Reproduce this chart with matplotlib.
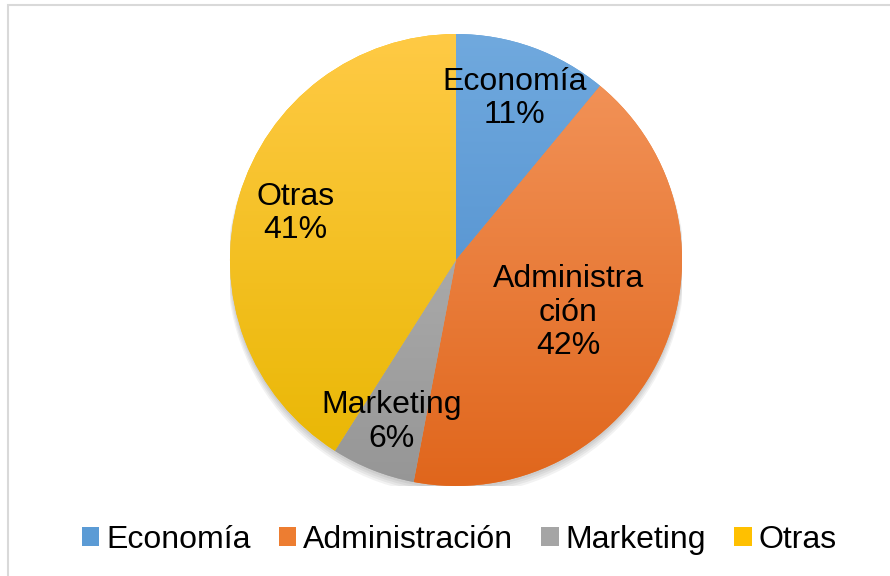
#!/usr/bin/env python3
# -*- coding: utf-8 -*-

import numpy as np
import matplotlib
matplotlib.use("Agg")
import matplotlib.pyplot as plt
from matplotlib.patches import Patch, Rectangle, Circle
from matplotlib.colors import to_rgb

# DATA
categories = ["Economía", "Administración", "Marketing", "Otras"]
shares = [11, 42, 6, 41]
slice_labels = ["Economía\n11%", "Administra\nción\n42%", "Marketing\n6%", "Otras\n41%"]

# gradient colours per slice (top -> bottom)
top_colors = ["#70a9de", "#f4975e", "#bdbdbd", "#ffca45"]
bottom_colors = ["#4687c9", "#e0661c", "#969696", "#e8b600"]
legend_colors = ["#5b9bd5", "#ed7d31", "#a5a5a5", "#ffc000"]

# radial position of each slice label (fraction of radius)
label_dist = [0.76, 0.55, 0.77, 0.74]

plt.rcParams["font.family"] = ["Liberation Sans", "DejaVu Sans"]

W, H = 890, 576
fig = plt.figure(figsize=(W / 100, H / 100), dpi=100)

# pie axes: centre ~(456, 260) px, radius ~226 px
cx, cy, r = 456, 260, 226
ax = fig.add_axes([(cx - r) / W, 1 - (cy + r) / H, 2 * r / W, 2 * r / H])

# soft shadow under the pie
for k in range(4):
    ax.add_patch(Circle((0, -0.012 - 0.006 * k), 1.0 + 0.004 * k,
                        color="black", alpha=0.05, lw=0, zorder=0))

wedges, _ = ax.pie(shares, startangle=90, counterclock=False,
                   colors=legend_colors, radius=1.0,
                   wedgeprops=dict(linewidth=0))

# gradient fill, clipped to each wedge
n = 256
t = np.linspace(0, 1, n)[:, None]  # 0 = bottom, 1 = top
for w, ctop, cbot in zip(wedges, top_colors, bottom_colors):
    c0 = np.array(to_rgb(cbot))
    c1 = np.array(to_rgb(ctop))
    grad = (c0 + (c1 - c0) * t)[:, None, :].repeat(2, axis=1).reshape(n, 2, 3)
    im = ax.imshow(grad, extent=(-1, 1, -1, 1), origin="lower",
                   aspect="auto", interpolation="bilinear", zorder=2)
    im.set_clip_path(w)

# slice labels
for w, lab, d in zip(wedges, slice_labels, label_dist):
    ang = np.deg2rad((w.theta1 + w.theta2) / 2)
    ax.text(d * np.cos(ang), d * np.sin(ang), lab, ha="center", va="center",
            fontsize=23, color="black", linespacing=1.15, zorder=5)

ax.set_xlim(-1, 1)
ax.set_ylim(-1, 1)
ax.set_aspect("equal")
ax.axis("off")

# legend
handles = [Patch(facecolor=c, edgecolor="none") for c in legend_colors]
fig.legend(handles, categories, loc="center", bbox_to_anchor=(0.516, 1 - 540 / H),
           ncol=4, frameon=False, fontsize=23, handlelength=0.55, handleheight=0.55,
           handletextpad=0.22, columnspacing=0.87, borderpad=0)

# chart-area border (only top and left edges visible in the crop)
fig.patches.append(Rectangle((8 / W, -0.2), 1.2, 1 - 5 / H + 0.2,
                             transform=fig.transFigure, fill=False,
                             edgecolor="#d9d9d9", linewidth=1.5))

fig.savefig("out.png", dpi=100)
plt.close(fig)
